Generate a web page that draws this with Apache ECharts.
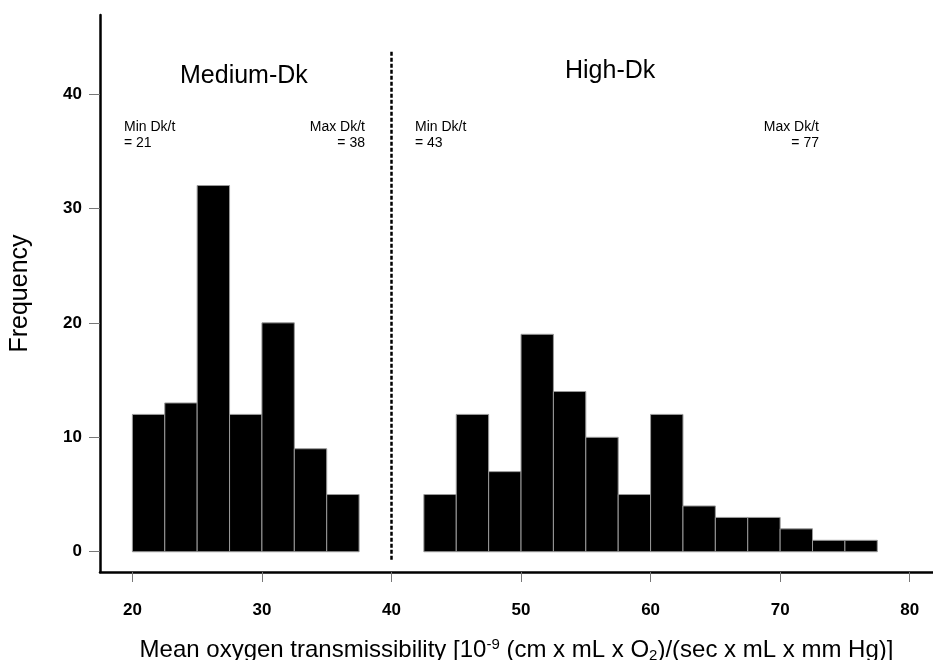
<!DOCTYPE html>
<html>
<head>
<meta charset="utf-8">
<script src="https://cdn.jsdelivr.net/npm/echarts@6/dist/echarts.min.js"></script>
<style>
  html, body { margin: 0; padding: 0; background: #fff; }
  #chart { width: 933px; height: 660px; }
</style>
</head>
<body>
<div id="chart"></div>
<script>
const binWidth = 2.5;
const mediumStarts = [20, 22.5, 25, 27.5, 30, 32.5, 35];
const mediumCounts = [12, 13, 32, 12, 20, 9, 5];
const highStarts = [42.5, 45, 47.5, 50, 52.5, 55, 57.5, 60, 62.5, 65, 67.5, 70, 72.5, 75];
const highCounts = [5, 12, 7, 19, 14, 10, 5, 12, 4, 3, 3, 2, 1, 1];
const xTicks = [20, 30, 40, 50, 60, 70, 80];
const yTicks = [0, 10, 20, 30, 40];
const dividerAt = 40;

const font = "'Liberation Sans', Arial, sans-serif";

const toBins = (starts, counts) => starts.map((s, i) => [s, s + binWidth, counts[i]]);

const renderBin = (params, api) => {
  const p0 = api.coord([api.value(0), api.value(2)]);
  const p1 = api.coord([api.value(1), 0]);
  return {
    type: "rect",
    shape: { x: p0[0], y: p0[1], width: p1[0] - p0[0], height: p1[1] - p0[1] },
    style: { fill: "#000", stroke: "#9a9a9a", lineWidth: 1 },
  };
};

const note = (x, y, text, align) => ({
  type: "text",
  x: x,
  y: y,
  style: { text: text, align: align, verticalAlign: "top", fontSize: 14, lineHeight: 16, fontFamily: font, fill: "#000" },
});

const chart = echarts.init(document.getElementById("chart"));

const option = {
  animation: false,
  textStyle: { fontFamily: font },
  grid: { left: 100, right: 0, top: 15, bottom: 88, outerBoundsMode: "none" },
  xAxis: {
    type: "value",
    min: 17.5,
    max: 81.8,
    splitLine: { show: false },
    axisLine: { onZero: false, lineStyle: { color: "#000", width: 2.5 } },
    axisTick: { customValues: xTicks, length: 10, lineStyle: { color: "#777", width: 1 } },
    axisLabel: {
      customValues: xTicks,
      margin: 30,
      color: "#000",
      fontWeight: "bold",
      fontSize: 17,
      fontFamily: font,
    },
    name: "{a|Mean oxygen transmissibility [10}{sup|-9}{a| (cm x mL x O}{sub|2}{a|)/(sec x mL x mm Hg)]}",
    nameLocation: "middle",
    nameGap: 65,
    nameTextStyle: {
      rich: {
        a: { fontSize: 24, fontFamily: font, color: "#000" },
        sup: { fontSize: 15, fontFamily: font, color: "#000", padding: [0, 0, 12, 0] },
        sub: { fontSize: 15, fontFamily: font, color: "#000", padding: [10, 0, 0, 0] },
      },
    },
  },
  yAxis: {
    type: "value",
    min: -1.77,
    max: 46.9,
    splitLine: { show: false },
    axisLine: { onZero: false, lineStyle: { color: "#000", width: 2.5 } },
    axisTick: { customValues: yTicks, length: 11, lineStyle: { color: "#777", width: 1 } },
    axisLabel: {
      customValues: yTicks,
      margin: 18,
      color: "#000",
      fontWeight: "bold",
      fontSize: 17,
      fontFamily: font,
    },
    name: "Frequency",
    nameLocation: "middle",
    nameRotate: 90,
    nameGap: 67,
    nameTextStyle: { fontSize: 25, color: "#000", fontFamily: font },
  },
  graphic: [
    { type: "text", left: 180, top: 64, style: { text: "Medium-Dk", fontSize: 25, fontFamily: font, fill: "#000" } },
    { type: "text", left: 565, top: 59, style: { text: "High-Dk", fontSize: 25, fontFamily: font, fill: "#000" } },
    note(124, 119, "Min Dk/t\n= 21", "left"),
    note(365, 119, "Max Dk/t\n= 38", "right"),
    note(415, 119, "Min Dk/t\n= 43", "left"),
    note(819, 119, "Max Dk/t\n= 77", "right"),
  ],
  series: [
    {
      name: "Medium-Dk",
      type: "custom",
      renderItem: renderBin,
      data: toBins(mediumStarts, mediumCounts),
    },
    {
      name: "High-Dk",
      type: "custom",
      renderItem: renderBin,
      data: toBins(highStarts, highCounts),
      markLine: {
        silent: true,
        symbol: "none",
        label: { show: false },
        lineStyle: { color: "#000", width: 2.5, type: [4, 2] },
        data: [[{ coord: [dividerAt, -0.7] }, { coord: [dividerAt, 43.7] }]],
      },
    },
  ],
};

chart.setOption(option);
window.addEventListener("resize", () => chart.resize());
</script>
</body>
</html>
